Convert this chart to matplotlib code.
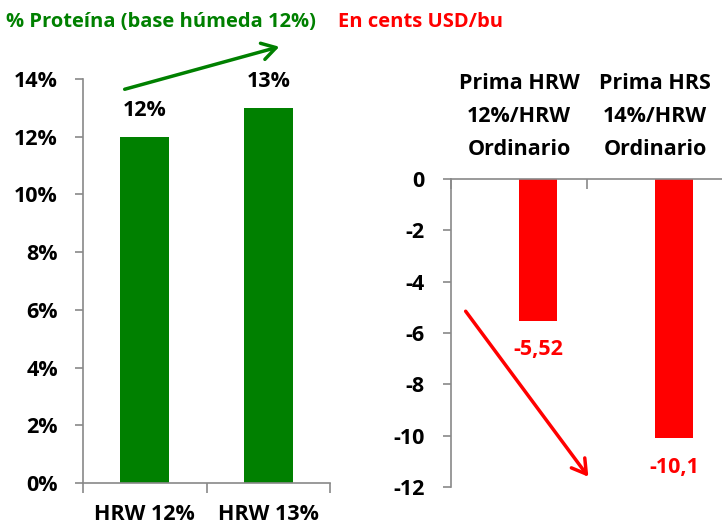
import matplotlib.pyplot as plt
import numpy as np
from matplotlib.patches import FancyArrowPatch

# Datos
cat_prot = ['HRW 12%', 'HRW 13%']
val_prot = [12, 13]
cat_prima = ['Prima HRW\n12%/HRW\nOrdinario', 'Prima HRS\n14%/HRW\nOrdinario']
val_prima = [-5.52, -10.1]
etq_prima = ['-5,52', '-10,1']
ticks_prot = [0, 2, 4, 6, 8, 10, 12, 14]
ticks_prima = [0, -2, -4, -6, -8, -10, -12]

verde = '#008000'
rojo = '#ff0000'
gris = '#898989'
fuente = 'Open Sans'
tam = 15.5

plt.rcParams['font.family'] = [fuente, 'DejaVu Sans']
plt.rcParams['font.weight'] = 'bold'

W, H = 722, 530
fig = plt.figure(figsize=(W / 100, H / 100), dpi=100)

def caja(x0, x1, y_top, y_bot):
    return [x0 / W, 1 - y_bot / H, (x1 - x0) / W, (y_bot - y_top) / H]

# Grafico izquierdo: proteina
ax1 = fig.add_axes(caja(83, 330, 79, 483))
x1 = np.arange(len(cat_prot))
ax1.bar(x1, val_prot, width=0.4, color=verde)
ax1.set_xlim(-0.5, 1.5)
ax1.set_ylim(0, 14)
ax1.set_yticks(ticks_prot)
ax1.set_yticklabels([f'{t}%' for t in ticks_prot], fontsize=tam, fontweight='bold')
ax1.set_xticks([-0.5, 0.5, 1.5])
ax1.set_xticklabels([])
ax1.set_xticks(x1, minor=True)
ax1.set_xticklabels(cat_prot, minor=True, fontsize=tam, fontweight='bold')
ax1.tick_params(axis='x', which='minor', length=0, pad=15)
ax1.tick_params(axis='x', which='major', length=7, color=gris, width=1.2)
ax1.tick_params(axis='y', length=6, color=gris, width=1.2, pad=12)
for s in ['top', 'right']:
    ax1.spines[s].set_visible(False)
for s in ['left', 'bottom']:
    ax1.spines[s].set_color(gris)
    ax1.spines[s].set_linewidth(1.2)
for xi, v in zip(x1, val_prot):
    ax1.annotate(f'{v}%', (xi, v), xytext=(0, 19), textcoords='offset points',
                 ha='center', va='center', fontsize=tam, fontweight='bold')

# Grafico derecho: primas
ax2 = fig.add_axes(caja(451, 723, 179, 487))
x2 = np.arange(len(cat_prima))
ax2.bar(x2, val_prima, width=0.28, align='edge', color=rojo)
ax2.set_xlim(-0.5, 1.5)
ax2.set_ylim(-12, 0)
ax2.set_yticks(ticks_prima)
ax2.set_yticklabels([str(t) for t in ticks_prima], fontsize=tam, fontweight='bold')
ax2.xaxis.tick_top()
ax2.set_xticks([-0.5, 0.5, 1.5])
ax2.set_xticklabels([])
ax2.set_xticks(x2, minor=True)
ax2.set_xticklabels(cat_prima, minor=True, fontsize=tam, fontweight='bold', linespacing=1.75)
ax2.tick_params(axis='x', which='minor', length=0, pad=14)
ax2.tick_params(axis='x', which='major', direction='in', length=7, color=gris, width=1.2)
ax2.tick_params(axis='y', length=6, color=gris, width=1.2, pad=13)
for s in ['bottom', 'right']:
    ax2.spines[s].set_visible(False)
for s in ['left', 'top']:
    ax2.spines[s].set_color(gris)
    ax2.spines[s].set_linewidth(1.2)
for xi, v, t in zip(x2, val_prima, etq_prima):
    ax2.annotate(t, (xi + 0.14, v), xytext=(0, -21), textcoords='offset points',
                 ha='center', va='center', fontsize=tam, fontweight='bold', color=rojo)

# Titulos
fig.text(6 / W, 1 - 22 / H, '% Proteína (base húmeda 12%)', color=verde,
         fontsize=14.5, fontweight='bold', ha='left', va='center')
fig.text(421 / W, 1 - 22 / H, 'En cents USD/bu', color=rojo,
         fontsize=14.5, fontweight='bold', ha='center', va='center')

# Flechas
fig.add_artist(FancyArrowPatch(
    (122 / W, 1 - 90 / H), (282 / W, 1 - 46 / H), transform=fig.transFigure,
    arrowstyle='->,head_length=10,head_width=6', color=verde, lw=2.5))
fig.add_artist(FancyArrowPatch(
    (464 / W, 1 - 309 / H), (590 / W, 1 - 479 / H), transform=fig.transFigure,
    arrowstyle='->,head_length=10,head_width=6', color=rojo, lw=2.5))

fig.savefig('out.png', dpi=100)
